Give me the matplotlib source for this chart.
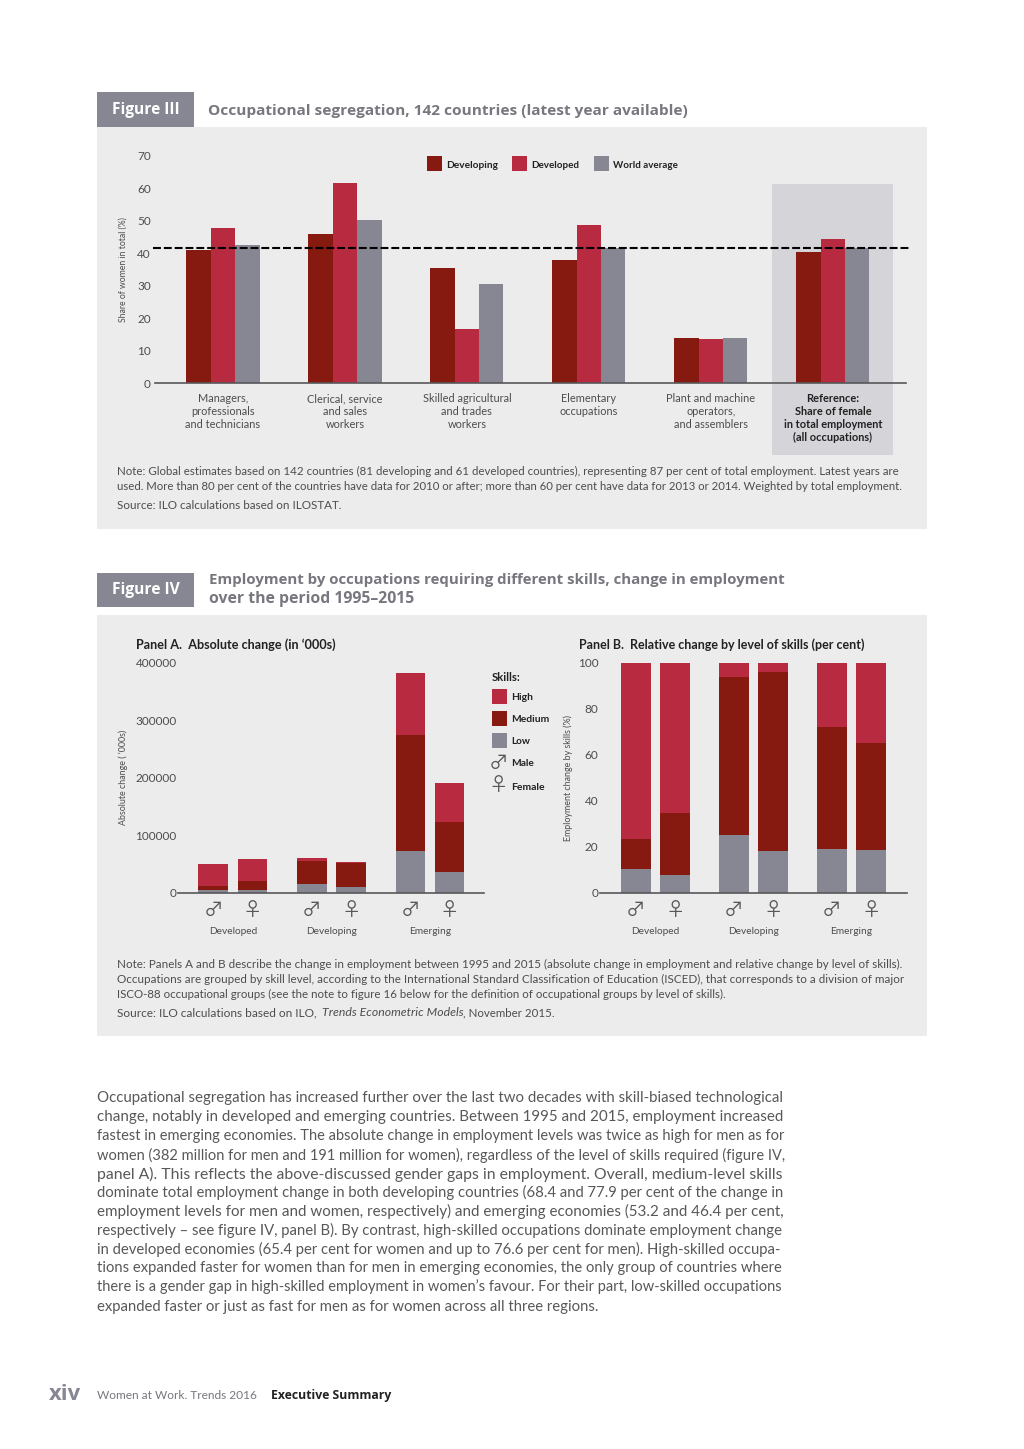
import matplotlib
matplotlib.use("Agg")
import matplotlib.pyplot as plt
from matplotlib.patches import Rectangle
import numpy as np

W, H = 1024, 1449
DARK, RED, GREY = "#861a10", "#b72a3f", "#868793"
PANEL, SHADE = "#ececed", "#d5d4d9"
TXT = "#4d4d4f"
BODY = "Lato"
HEAD = "Open Sans"
SYM = ["Noto Sans CJK JP", "DejaVu Sans"]

# Figure III
occupations = ["Managers,\nprofessionals\nand technicians", "Clerical, service\nand sales\nworkers",
               "Skilled agricultural\nand trades\nworkers", "Elementary\noccupations\n",
               "Plant and machine\noperators,\nand assemblers",
               "Reference:\nShare of female\nin total employment\n(all occupations)"]
developing = [41.0, 46.0, 35.5, 38.0, 14.0, 40.5]
developed = [47.7, 61.7, 16.5, 48.7, 13.7, 44.5]
world = [42.7, 50.3, 30.5, 41.5, 13.9, 41.7]
reference_level = 41.5

# Figure IV
regions = ["Developed", "Developing", "Emerging"]
abs_low = [5000, 4000, 14500, 9300, 72000, 35400]
abs_medium = [6000, 16300, 41500, 43000, 202000, 88100]
abs_high = [38300, 38700, 4000, 1000, 107700, 66500]
rel_low = [10.5, 7.5, 25.2, 18.0, 18.8, 18.7]
rel_medium = [12.9, 27.1, 68.4, 77.9, 53.2, 46.4]
rel_high = [76.6, 65.4, 6.4, 4.1, 28.0, 34.9]

note3 = ["Note: Global estimates based on 142 countries (81 developing and 61 developed countries), representing 87 per cent of total employment. Latest years are",
         "used. More than 80 per cent of the countries have data for 2010 or after; more than 60 per cent have data for 2013 or 2014. Weighted by total employment."]
note4 = ["Note: Panels A and B describe the change in employment between 1995 and 2015 (absolute change in employment and relative change by level of skills).",
         "Occupations are grouped by skill level, according to the International Standard Classification of Education (ISCED), that corresponds to a division of major",
         "ISCO-88 occupational groups (see the note to figure 16 below for the definition of occupational groups by level of skills)."]
body = ["Occupational segregation has increased further over the last two decades with skill-biased technological",
        "change, notably in developed and emerging countries. Between 1995 and 2015, employment increased",
        "fastest in emerging economies. The absolute change in employment levels was twice as high for men as for",
        "women (382 million for men and 191 million for women), regardless of the level of skills required (figure IV,",
        "panel A). This reflects the above-discussed gender gaps in employment. Overall, medium-level skills",
        "dominate total employment change in both developing countries (68.4 and 77.9 per cent of the change in",
        "employment levels for men and women, respectively) and emerging economies (53.2 and 46.4 per cent,",
        "respectively – see figure IV, panel B). By contrast, high-skilled occupations dominate employment change",
        "in developed economies (65.4 per cent for women and up to 76.6 per cent for men). High-skilled occupa-",
        "tions expanded faster for women than for men in emerging economies, the only group of countries where",
        "there is a gender gap in high-skilled employment in women’s favour. For their part, low-skilled occupations",
        "expanded faster or just as fast for men as for women across all three regions."]

fig = plt.figure(figsize=(W / 100, H / 100), dpi=100, facecolor="white")
renderer = fig.canvas.get_renderer()


def box(x0, y0, x1, y1, color, z=0):
    fig.add_artist(Rectangle((x0 / W, 1 - y1 / H), (x1 - x0) / W, (y1 - y0) / H,
                             transform=fig.transFigure, facecolor=color, edgecolor="none", zorder=z))


def label(x, y, s, size=8, width=None, ha="left", color=TXT, family=BODY, **kw):
    t = fig.text(x / W, 1 - y / H, s, fontsize=size, ha=ha, va="center", color=color, family=family, zorder=5, **kw)
    if width:
        t.set_fontsize(size * width / t.get_window_extent(renderer).width)
    return t


def panel_axes(x0, y0, x1, y1):
    ax = fig.add_axes([x0 / W, 1 - y1 / H, (x1 - x0) / W, (y1 - y0) / H])
    ax.patch.set_alpha(0)
    ax.set_zorder(3)
    for s in ("top", "left", "right"):
        ax.spines[s].set_visible(False)
    ax.spines["bottom"].set_color("#58585a")
    ax.spines["bottom"].set_linewidth(1.2)
    ax.tick_params(length=0)
    return ax


def side_label(ax, s, length, xc):
    ax.set_ylabel(s, fontsize=7, color=TXT, family=BODY)
    lab = ax.yaxis.label
    lab.set_fontsize(7 * length / lab.get_window_extent(renderer).height)
    ax.yaxis.set_label_coords(xc, 0.5)


# Backgrounds and headers
box(97, 127, 927, 529, PANEL)
box(97, 615, 927, 1036, PANEL)
box(97, 92, 194, 127, GREY)
box(97, 573, 194, 607, GREY)
box(772, 184, 893, 455, SHADE, z=1)
label(145.5, 110.5, "Figure III", 11, width=68, ha="center", color="white", family=HEAD, weight="bold")
label(145.5, 590.5, "Figure IV", 11, width=68, ha="center", color="white", family=HEAD, weight="bold")
label(208, 111, "Occupational segregation, 142 countries (latest year available)", 12, width=478, color="#77777f", family=HEAD, weight="bold")
label(209, 580, "Employment by occupations requiring different skills, change in employment", 12, width=577, color="#77777f", family=HEAD, weight="bold")
label(209, 599, "over the period 1995–2015", 12, width=204, color="#77777f", family=HEAD, weight="bold")

# Figure III chart
ax = panel_axes(155, 156, 906, 383)
x = np.arange(len(occupations))
bw = 0.2
ax.bar(x - bw, developing, bw, color=DARK)
ax.bar(x, developed, bw, color=RED)
ax.bar(x + bw, world, bw, color=GREY)
ax.set_xlim(-0.557, 5.6)
ax.set_ylim(0, 70)
ax.plot([-0.574, 5.625], [reference_level] * 2, color="black", lw=1.5, ls=(0, (3.8, 1.4)), clip_on=False, zorder=4)
ax.set_yticks(range(0, 71, 10))
ax.tick_params(axis="y", pad=3, labelsize=8.5, labelcolor=TXT)
ax.set_xticks(x, occupations, fontsize=7.9, color=TXT, linespacing=1.2, family=BODY)
ax.tick_params(axis="x", pad=7.5)
for t in ax.get_yticklabels():
    t.set_family(BODY)
ax.get_xticklabels()[-1].set(weight="bold", color="#222222", fontsize=7.9)
side_label(ax, "Share of women in total (%)", 105, -27 / 751)

for px, lab, c, w in [(427, "Developing", DARK, 52), (512, "Developed", RED, 48), (594, "World average", GREY, 65)]:
    box(px, 156, px + 15, 171, c)
    label(px + 19, 165, lab, 8, width=w, color="#222222", family=BODY, weight="bold")

for y, s in zip((471, 487), note3):
    label(117, y, s, 8, width=790)
label(117, 505.5, "Source: ILO calculations based on ILOSTAT.", 8, width=225)


def stacked(ax, low, med, high):
    pos = np.array([g + d for g in range(3) for d in (-0.2, 0.2)])
    low, med, high = map(np.array, (low, med, high))
    ax.bar(pos, low, 0.3, color=GREY)
    ax.bar(pos, med, 0.3, bottom=low, color=DARK)
    ax.bar(pos, high, 0.3, bottom=low + med, color=RED)
    ax.set_xticks(pos, ["♂", "♀"] * 3, fontsize=14, color="#58585a", family=SYM)
    ax.tick_params(axis="x", pad=5)
    ax.tick_params(axis="y", pad=1, labelsize=8.5, labelcolor=TXT)
    for t in ax.get_yticklabels():
        t.set_family(BODY)
    for g, r in enumerate(regions):
        ax.text(g, -38.3 / 230, r, transform=ax.get_xaxis_transform(), ha="center", va="center",
                fontsize=7.3, color=TXT, family=BODY)


# Panel A
axa = panel_axes(178, 662.7, 484, 892.7)
stacked(axa, abs_low, abs_medium, abs_high)
axa.set_xlim(-0.558, 2.548)
axa.set_ylim(0, 400000)
axa.set_yticks(range(0, 400001, 100000))
side_label(axa, "Absolute change ( ‘000s)", 95, -50 / 306)

# Panel B
axb = panel_axes(600, 662.7, 907, 892.7)
stacked(axb, rel_low, rel_medium, rel_high)
axb.set_xlim(-0.566, 2.566)
axb.set_ylim(0, 100)
axb.set_yticks(range(0, 101, 20))
side_label(axb, "Employment change by skills (%)", 126, -27 / 307)

label(136, 645, "Panel A.  Absolute change (in ‘000s)", 9, width=199, color="#222222", family=BODY, weight="bold")
label(579, 645, "Panel B.  Relative change by level of skills (per cent)", 9, width=286, color="#222222", family=BODY, weight="bold")

# Legend of Figure IV
label(492, 678, "Skills:", 8, width=29, color="#222222", family=BODY, weight="bold")
for y, lab, c, w in [(696.5, "High", RED, 22), (718.5, "Medium", DARK, 38), (740.5, "Low", GREY, 19)]:
    box(492, y - 7.5, 507, y + 7.5, c)
    label(511, y + 0.5, lab, 8, width=w, color="#222222", family=BODY, weight="bold")
label(498.5, 763.5, "♂", 14, ha="center", color="#58585a", family=SYM)
label(498.5, 786, "♀", 14, ha="center", color="#58585a", family=SYM)
label(511, 764, "Male", 8, width=23, color="#222222", family=BODY, weight="bold")
label(511, 787, "Female", 8, width=34, color="#222222", family=BODY, weight="bold")

# Notes of Figure IV
for y, s, w in zip((964, 979, 994), note4, (790, 790, 615)):
    label(117, y, s, 8, width=w)
label(117, 1012.5, "Source: ILO calculations based on ILO,", 8, width=201)
label(321.5, 1012.5, "Trends Econometric Models", 8, width=141, style="italic")
label(463, 1012.5, ", November 2015.", 8, width=92)

# Running text
ys = [1098, 1117, 1136, 1155, 1174, 1192.5, 1211, 1230, 1249, 1268, 1287, 1306.5]
for i, (y, s) in enumerate(zip(ys, body)):
    label(97, y, s, 11, width=683 if i < len(body) - 1 else 501, family=BODY, color="#58585a")

# Footer
label(49, 1394, "xiv", 15, width=32, color=GREY, family=HEAD, weight="bold")
label(97, 1395.5, "Women at Work. Trends 2016", 10, width=160, color="#77777f", family=BODY)
label(271, 1395.5, "Executive Summary", 10, width=121, color="#222222", family=HEAD, weight="bold")

fig.savefig("out.png", dpi=100)
